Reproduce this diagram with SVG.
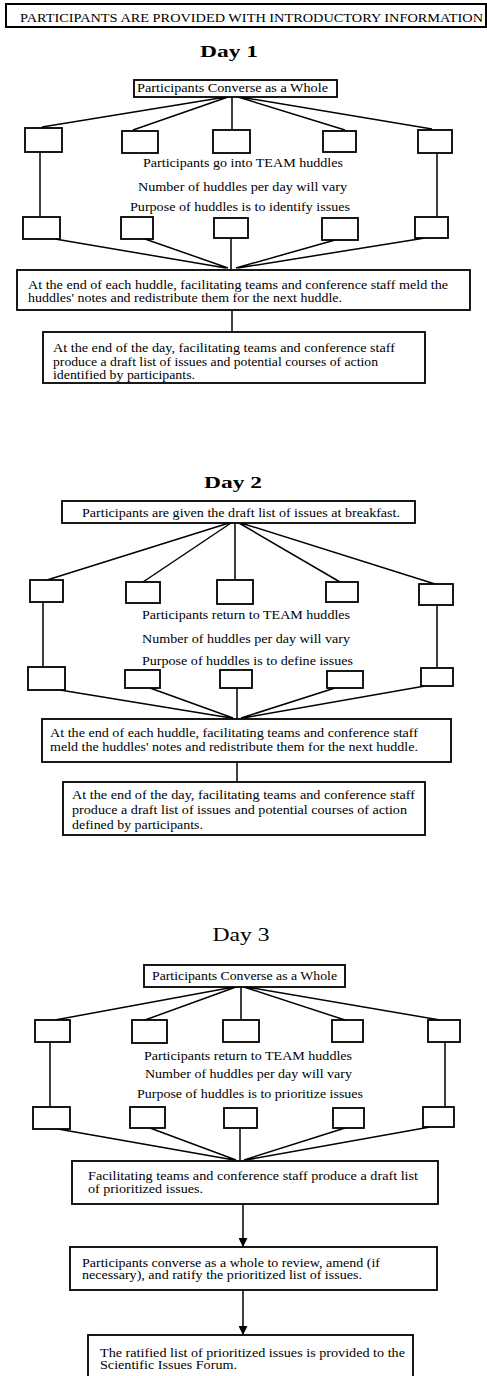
<svg xmlns="http://www.w3.org/2000/svg" width="487" height="1376" viewBox="0 0 487 1376">
<style>
rect{fill:#fff;stroke:#000;stroke-width:1.8}
.ln{stroke:#000;stroke-width:1.5;fill:none}
text{font-family:"Liberation Serif","Times New Roman",serif;font-size:11.5px;fill:#000}
.hd{font-size:13px}
.day{font-size:17px;font-weight:bold;text-anchor:middle}
.day3{font-size:18px;text-anchor:middle}
</style>
<defs>
<marker id="ah" viewBox="0 0 10 10" refX="10" refY="5" markerWidth="6" markerHeight="6" orient="auto">
<path d="M0,0 L10,5 L0,10 z" fill="#000"/>
</marker>
</defs>

<g id="connectors">
<path class="ln" d="M226,97 L42,127 M228,97 L133,130 M232,97 L232,130 M238,97 L345,130 M240,97 L432,129"/>
<path class="ln" d="M40,152 L40,217 M437,153 L437,217"/>
<path class="ln" d="M55,239 L226,268 M145,239 L228,268 M231,238 L231,270 M335,240 L236,268 M425,238 L238,268"/>
<path class="ln" d="M232,310 L232,332"/>
<path class="ln" d="M229,523 L47,580 M231,523 L143,582 M235,523 L235,580 M239,523 L340,582 M241,523 L435,584"/>
<path class="ln" d="M43,602 L43,667 M437,605 L437,668"/>
<path class="ln" d="M60,690 L231,718 M150,688 L233,718 M237,688 L237,719 M335,688 L241,718 M425,686 L243,718"/>
<path class="ln" d="M237,762 L237,782"/>
<path class="ln" d="M234,987 L55,1020 M236,987 L145,1020 M241,987 L241,1020 M244,987 L345,1020 M246,987 L440,1020"/>
<path class="ln" d="M50,1042 L50,1107 M445,1042 L445,1107"/>
<path class="ln" d="M58,1129 L234,1160 M150,1128 L236,1160 M240,1128 L240,1161 M345,1128 L244,1160 M430,1127 L246,1160"/>
<path class="ln" d="M243,1204 L243,1247" marker-end="url(#ah)"/>
<path class="ln" d="M243,1290 L243,1335" marker-end="url(#ah)"/>
</g>

<g id="header">
<rect x="6" y="4" width="480" height="23" style="stroke-width:2"/>
<text class="hd" x="20" y="22" textLength="463" lengthAdjust="spacingAndGlyphs">PARTICIPANTS ARE PROVIDED WITH INTRODUCTORY INFORMATION</text>
</g>

<text id="day1-title" class="day" x="229" y="57" textLength="58" lengthAdjust="spacingAndGlyphs">Day  1</text>
<g id="d1-converge">
<rect x="134" y="80" width="203" height="17"/>
<text x="137" y="92" textLength="191" lengthAdjust="spacingAndGlyphs">Participants Converse as a Whole</text>
</g>
<g id="d1-t1"><rect x="25" y="128" width="37" height="24"/></g>
<g id="d1-t2"><rect x="122" y="131" width="36" height="22"/></g>
<g id="d1-t3"><rect x="213" y="130" width="37" height="23"/></g>
<g id="d1-t4"><rect x="323" y="131" width="33" height="21"/></g>
<g id="d1-t5"><rect x="418" y="130" width="34" height="23"/></g>
<g id="d1-notes">
<text x="143" y="167" textLength="200" lengthAdjust="spacingAndGlyphs">Participants go into TEAM huddles</text>
<text x="138" y="191" textLength="209" lengthAdjust="spacingAndGlyphs">Number of huddles per day will vary</text>
<text x="130" y="211" textLength="220" lengthAdjust="spacingAndGlyphs">Purpose of huddles is to identify issues</text>
</g>
<g id="d1-b1"><rect x="23" y="217" width="37" height="22"/></g>
<g id="d1-b2"><rect x="121" y="217" width="32" height="22"/></g>
<g id="d1-b3"><rect x="214" y="218" width="34" height="20"/></g>
<g id="d1-b4"><rect x="322" y="218" width="36" height="22"/></g>
<g id="d1-b5"><rect x="415" y="217" width="33" height="21"/></g>
<g id="d1-meld">
<rect x="17" y="270" width="453" height="40"/>
<text x="28" y="289" textLength="420" lengthAdjust="spacingAndGlyphs">At the end of each huddle, facilitating teams and conference staff meld the</text>
<text x="28" y="302" textLength="314" lengthAdjust="spacingAndGlyphs">huddles' notes and redistribute them for the next huddle.</text>
</g>
<g id="d1-end">
<rect x="43" y="332" width="382" height="51"/>
<text x="53" y="352" textLength="342" lengthAdjust="spacingAndGlyphs">At the end of the day, facilitating teams and conference staff</text>
<text x="53" y="366" textLength="325" lengthAdjust="spacingAndGlyphs">produce a draft list of issues and potential courses of action</text>
<text x="53" y="379" textLength="142" lengthAdjust="spacingAndGlyphs">identified by participants.</text>
</g>

<text id="day2-title" class="day" x="233" y="488" textLength="58" lengthAdjust="spacingAndGlyphs">Day  2</text>
<g id="d2-start">
<rect x="62" y="501" width="353" height="22"/>
<text x="82" y="517" textLength="318" lengthAdjust="spacingAndGlyphs">Participants are given the draft list of issues at breakfast.</text>
</g>
<g id="d2-t1"><rect x="30" y="580" width="33" height="22"/></g>
<g id="d2-t2"><rect x="126" y="582" width="34" height="21"/></g>
<g id="d2-t3"><rect x="217" y="580" width="36" height="24"/></g>
<g id="d2-t4"><rect x="326" y="582" width="32" height="20"/></g>
<g id="d2-t5"><rect x="419" y="584" width="34" height="21"/></g>
<g id="d2-notes">
<text x="142" y="619" textLength="208" lengthAdjust="spacingAndGlyphs">Participants return to TEAM huddles</text>
<text x="142" y="643" textLength="208" lengthAdjust="spacingAndGlyphs">Number of huddles per day will vary</text>
<text x="142" y="665" textLength="211" lengthAdjust="spacingAndGlyphs">Purpose of huddles is to define issues</text>
</g>
<g id="d2-b1"><rect x="28" y="667" width="37" height="23"/></g>
<g id="d2-b2"><rect x="125" y="670" width="35" height="18"/></g>
<g id="d2-b3"><rect x="220" y="670" width="32" height="18"/></g>
<g id="d2-b4"><rect x="327" y="671" width="36" height="17"/></g>
<g id="d2-b5"><rect x="421" y="668" width="32" height="18"/></g>
<g id="d2-meld">
<rect x="42" y="719" width="409" height="43"/>
<text x="50" y="737" textLength="368" lengthAdjust="spacingAndGlyphs">At the end of each huddle, facilitating teams and conference staff</text>
<text x="50" y="751" textLength="368" lengthAdjust="spacingAndGlyphs">meld the huddles' notes and redistribute them for the next huddle.</text>
</g>
<g id="d2-end">
<rect x="63" y="782" width="362" height="53"/>
<text x="72" y="799" textLength="343" lengthAdjust="spacingAndGlyphs">At the end of the day, facilitating teams and conference staff</text>
<text x="72" y="814" textLength="335" lengthAdjust="spacingAndGlyphs">produce a draft list of issues and potential courses of action</text>
<text x="72" y="829" textLength="131" lengthAdjust="spacingAndGlyphs">defined by participants.</text>
</g>

<text id="day3-title" class="day3" x="241" y="941" textLength="57" lengthAdjust="spacingAndGlyphs">Day  3</text>
<g id="d3-converge">
<rect x="144" y="965" width="201" height="22"/>
<text x="152" y="980" textLength="185" lengthAdjust="spacingAndGlyphs">Participants Converse as a Whole</text>
</g>
<g id="d3-t1"><rect x="35" y="1020" width="35" height="22"/></g>
<g id="d3-t2"><rect x="132" y="1020" width="35" height="23"/></g>
<g id="d3-t3"><rect x="223" y="1020" width="36" height="22"/></g>
<g id="d3-t4"><rect x="332" y="1020" width="31" height="22"/></g>
<g id="d3-t5"><rect x="428" y="1020" width="32" height="22"/></g>
<g id="d3-notes">
<text x="144" y="1060" textLength="208" lengthAdjust="spacingAndGlyphs">Participants return to TEAM huddles</text>
<text x="145" y="1078" textLength="207" lengthAdjust="spacingAndGlyphs">Number of huddles per day will vary</text>
<text x="137" y="1098" textLength="226" lengthAdjust="spacingAndGlyphs">Purpose of huddles is to prioritize issues</text>
</g>
<g id="d3-b1"><rect x="33" y="1107" width="37" height="22"/></g>
<g id="d3-b2"><rect x="130" y="1107" width="35" height="21"/></g>
<g id="d3-b3"><rect x="224" y="1108" width="33" height="20"/></g>
<g id="d3-b4"><rect x="333" y="1108" width="31" height="20"/></g>
<g id="d3-b5"><rect x="423" y="1107" width="31" height="20"/></g>
<g id="d3-draft">
<rect x="72" y="1161" width="366" height="43"/>
<text x="88" y="1180" textLength="330" lengthAdjust="spacingAndGlyphs">Facilitating teams and conference staff produce a draft list</text>
<text x="88" y="1193" textLength="115" lengthAdjust="spacingAndGlyphs">of prioritized issues.</text>
</g>
<g id="d3-ratify">
<rect x="70" y="1247" width="367" height="43"/>
<text x="82" y="1267" textLength="298" lengthAdjust="spacingAndGlyphs">Participants converse as a whole to review, amend (if</text>
<text x="82" y="1279" textLength="280" lengthAdjust="spacingAndGlyphs">necessary), and ratify the prioritized list of issues.</text>
</g>
<g id="d3-forum">
<rect x="88" y="1335" width="325" height="45"/>
<text x="100" y="1357" textLength="305" lengthAdjust="spacingAndGlyphs">The ratified list of prioritized issues is provided to the</text>
<text x="100" y="1369" textLength="137" lengthAdjust="spacingAndGlyphs">Scientific Issues Forum.</text>
</g>
</svg>
